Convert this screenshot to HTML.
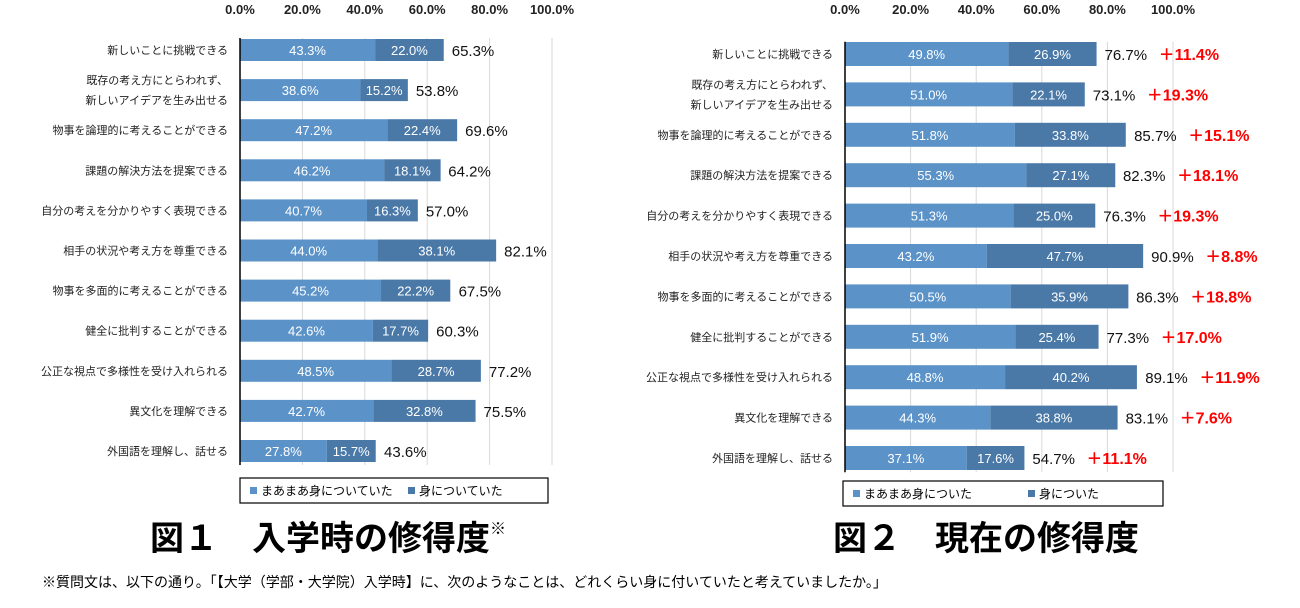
<!DOCTYPE html>
<html><head><meta charset="utf-8"><style>
body{margin:0;background:#fff;width:1300px;height:603px;overflow:hidden;font-family:"Liberation Sans","Noto Sans CJK JP",sans-serif;}
svg text{font-family:"Liberation Sans","Noto Sans CJK JP",sans-serif;}
</style></head><body>
<svg id="s" width="1300" height="603">
<g id="c1"></g>
<g id="c2"></g>
<text x="150" y="550" font-size="34" font-weight="bold">図１　入学時の修得度<tspan font-size="16" dy="-16">※</tspan></text>
<text x="833" y="550" font-size="34" font-weight="bold">図２　現在の修得度</text>
<text x="42" y="587" font-size="14">※質問文は、以下の通り。「【大学（学部・大学院）入学時】に、次のようなことは、どれくらい身に付いていたと考えていましたか。」</text>
</svg>
<script>
const categories=["新しいことに挑戦できる","既存の考え方にとらわれず、|新しいアイデアを生み出せる","物事を論理的に考えることができる","課題の解決方法を提案できる","自分の考えを分かりやすく表現できる","相手の状況や考え方を尊重できる","物事を多面的に考えることができる","健全に批判することができる","公正な視点で多様性を受け入れられる","異文化を理解できる","外国語を理解し、話せる"];
const entrySomewhat=[43.3,38.6,47.2,46.2,40.7,44.0,45.2,42.6,48.5,42.7,27.8];
const entryYes=[22.0,15.2,22.4,18.1,16.3,38.1,22.2,17.7,28.7,32.8,15.7];
const entryTotal=[65.3,53.8,69.6,64.2,57.0,82.1,67.5,60.3,77.2,75.5,43.6];
const nowSomewhat=[49.8,51.0,51.8,55.3,51.3,43.2,50.5,51.9,48.8,44.3,37.1];
const nowYes=[26.9,22.1,33.8,27.1,25.0,47.7,35.9,25.4,40.2,38.8,17.6];
const nowTotal=[76.7,73.1,85.7,82.3,76.3,90.9,86.3,77.3,89.1,83.1,54.7];
const increase=["＋11.4%","＋19.3%","＋15.1%","＋18.1%","＋19.3%","＋8.8%","＋18.8%","＋17.0%","＋11.9%","＋7.6%","＋11.1%"];
const ticks=[0,20,40,60,80,100];
const NS="http://www.w3.org/2000/svg";
function el(p,t,a,txt){const e=document.createElementNS(NS,t);for(const k in a)e.setAttribute(k,a[k]);if(txt!=null)e.textContent=txt;p.appendChild(e);return e;}
function draw(g,o){
 const x=v=>o.x0+v*o.sc, y=i=>o.y0+i*o.dy;
 ticks.forEach(t=>{
  const l=el(g,'line',{x1:x(t),x2:x(t),y1:o.y0-o.dy/2+8,y2:y(10)+o.dy/2-6,stroke:'#d9d9d9'});
  
  
  const tx=el(g,'text',{x:x(t),y:14,'font-size':13,'font-weight':'bold','text-anchor':'middle',fill:'#222'},t.toFixed(1)+'%');
  
  
 });
 categories.forEach((c,i)=>{
  const cy=y(i),a=o.s[i],b=o.y[i];
  const parts=c.split('|');
  parts.forEach((p,j)=>{
   const t=el(g,'text',{x:o.x0-12,y:cy+4+(parts.length>1?(j?10:-10):0),'font-size':11,'text-anchor':'end',fill:'#222'},p);
   
   
  });
  const r1=el(g,'rect',{x:x(0),y:cy-o.bh/2,width:a*o.sc,height:o.bh,fill:'#5b93c9'});
  
  
  const r2=el(g,'rect',{x:x(a),y:cy-o.bh/2,width:b*o.sc,height:o.bh,fill:'#4a79a8'});
  
  
  const t1=el(g,'text',{x:x(a/2),y:cy+5,'font-size':13,fill:'#fff','text-anchor':'middle'},a.toFixed(1)+'%');
  
  
  const t2=el(g,'text',{x:x(a+b/2),y:cy+5,'font-size':13,fill:'#fff','text-anchor':'middle'},b.toFixed(1)+'%');
  
  
  const t3=el(g,'text',{x:x(o.t[i])+8,y:cy+6,'font-size':15,fill:'#111'},o.t[i].toFixed(1)+'%');
  
  
  if(o.inc){const t4=el(g,'text',{x:x(o.t[i])+62,y:cy+6,'font-size':16,'font-weight':'bold',fill:'#ff0000'},o.inc[i]);
  
  }
 });
 const ax=el(g,'line',{x1:o.x0,x2:o.x0,y1:o.y0-o.dy/2+8,y2:y(10)+o.dy/2-6,stroke:'#000','stroke-width':1.5});
 
 
 const lg=el(g,'g',{});
 
 
 el(lg,'rect',{x:o.lx,y:o.ly,width:o.lw,height:25,fill:'#fff',stroke:'#000','stroke-width':1.2});
 el(lg,'rect',{x:o.lx+10,y:o.ly+9,width:7,height:7,fill:'#5b93c9'});
 el(lg,'text',{x:o.lx+21,y:o.ly+17,'font-size':12},o.l1);
 el(lg,'rect',{x:o.lx+o.l2x,y:o.ly+9,width:7,height:7,fill:'#4a79a8'});
 el(lg,'text',{x:o.lx+o.l2x+11,y:o.ly+17,'font-size':12},o.l2);
}
draw(document.getElementById('c1'),{x0:240,sc:3.12,y0:50,dy:40.1,bh:22,s:entrySomewhat,y:entryYes,t:entryTotal,lx:240,ly:478,lw:308,l1:'まあまあ身についていた',l2:'身についていた',l2x:168});
draw(document.getElementById('c2'),{x0:845,sc:3.28,y0:54,dy:40.4,bh:24,s:nowSomewhat,y:nowYes,t:nowTotal,inc:increase,lx:843,ly:481,lw:320,l1:'まあまあ身についた',l2:'身についた',l2x:185});
</script>
</body></html>
